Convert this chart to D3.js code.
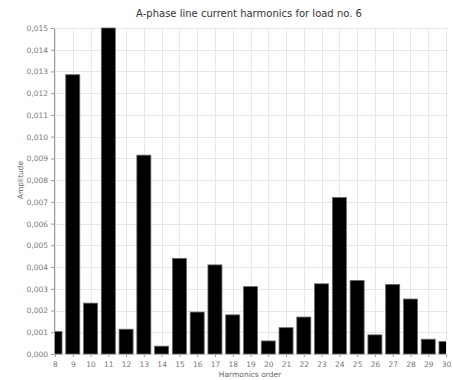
<!DOCTYPE html>
<html>
<head>
<meta charset="utf-8">
<script src="https://cdn.jsdelivr.net/npm/d3@7"></script>
<style>
  body { margin: 0; background: #fff; }
  text { font-family: "DejaVu Sans", Verdana, sans-serif; }
</style>
</head>
<body>
<svg width="453" height="380"></svg>
<script>
// harmonic orders and their amplitudes
var orders = [8, 9, 10, 11, 12, 13, 14, 15, 16, 17, 18, 19, 20, 21, 22, 23, 24, 25, 26, 27, 28, 29, 30];
var amplitudes = [0.00103, 0.01285, 0.00234, 0.0150, 0.00114, 0.00915, 0.00036, 0.0044, 0.00193, 0.0041, 0.0018,
                  0.0031, 0.0006, 0.00121, 0.0017, 0.00323, 0.0072, 0.00338, 0.00088, 0.0032, 0.00253, 0.00068, 0.00057];
var yTicks = [0, 0.001, 0.002, 0.003, 0.004, 0.005, 0.006, 0.007, 0.008, 0.009, 0.010, 0.011, 0.012, 0.013, 0.014, 0.015];

var svg = d3.select("svg"),
    plotLeft = 55, plotRight = 446, plotTop = 28, plotBottom = 354;

var x = d3.scaleLinear().domain([8, 30]).range([plotLeft, plotRight]);
var y = d3.scaleLinear().domain([0, 0.015]).range([plotBottom, plotTop]);
var fmt = function(d) { return d3.format(".3f")(d).replace(".", ","); };

svg.append("defs").append("clipPath").attr("id", "clip")
  .append("rect").attr("x", plotLeft).attr("y", 0).attr("width", plotRight - plotLeft).attr("height", plotBottom + 1);

// grid
var grid = svg.append("g").attr("stroke", "#e6e6e6").attr("stroke-width", 1);
grid.selectAll(".h").data(yTicks).enter().append("line")
  .attr("x1", plotLeft).attr("x2", plotRight + 2)
  .attr("y1", d => Math.round(y(d)) + 0.5).attr("y2", d => Math.round(y(d)) + 0.5);
grid.selectAll(".v").data(orders).enter().append("line")
  .attr("x1", d => Math.round(x(d)) + 0.5).attr("x2", d => Math.round(x(d)) + 0.5)
  .attr("y1", plotTop).attr("y2", plotBottom);

// bars
var bw = 14;
svg.append("g").attr("clip-path", "url(#clip)")
  .selectAll("rect").data(orders).enter().append("rect")
  .attr("x", (d) => x(d) - bw / 2)
  .attr("y", (d, i) => y(amplitudes[i]))
  .attr("width", bw)
  .attr("height", (d, i) => plotBottom - y(amplitudes[i]))
  .attr("fill", "#000")
  .attr("stroke", "#666")
  .attr("stroke-width", 0.8);

// axes
var yAxis = svg.append("g").attr("transform", "translate(" + (plotLeft - 1) + ",0)")
  .call(d3.axisLeft(y).tickValues(yTicks).tickFormat(fmt).tickSize(3).tickSizeOuter(0));
var xAxis = svg.append("g").attr("transform", "translate(0," + (plotBottom + 1) + ")")
  .call(d3.axisBottom(x).tickValues(orders).tickFormat(d3.format("d")).tickSize(2).tickSizeOuter(0));
[yAxis, xAxis].forEach(function(a) {
  a.select(".domain").attr("stroke", "#999");
  a.selectAll(".tick line").attr("stroke", "#999");
  a.selectAll("text").attr("fill", "#777").style("font-size", "7.5px")
    .style("font-family", "'DejaVu Sans', Verdana, sans-serif");
});
xAxis.selectAll("text").attr("dy", "0.9em");
xAxis.select(".domain").remove();

// titles
svg.append("text").attr("x", 249).attr("y", 17).attr("text-anchor", "middle")
  .style("font-size", "10px").attr("fill", "#333")
  .text("A-phase line current harmonics for load no. 6");
svg.append("text").attr("x", 250).attr("y", 377).attr("text-anchor", "middle")
  .style("font-size", "7.5px").attr("fill", "#666").text("Harmonics order");
svg.append("text").attr("transform", "translate(23,180) rotate(-90)").attr("text-anchor", "middle")
  .style("font-size", "7.5px").attr("fill", "#666").text("Amplitude");
</script>
</body>
</html>
